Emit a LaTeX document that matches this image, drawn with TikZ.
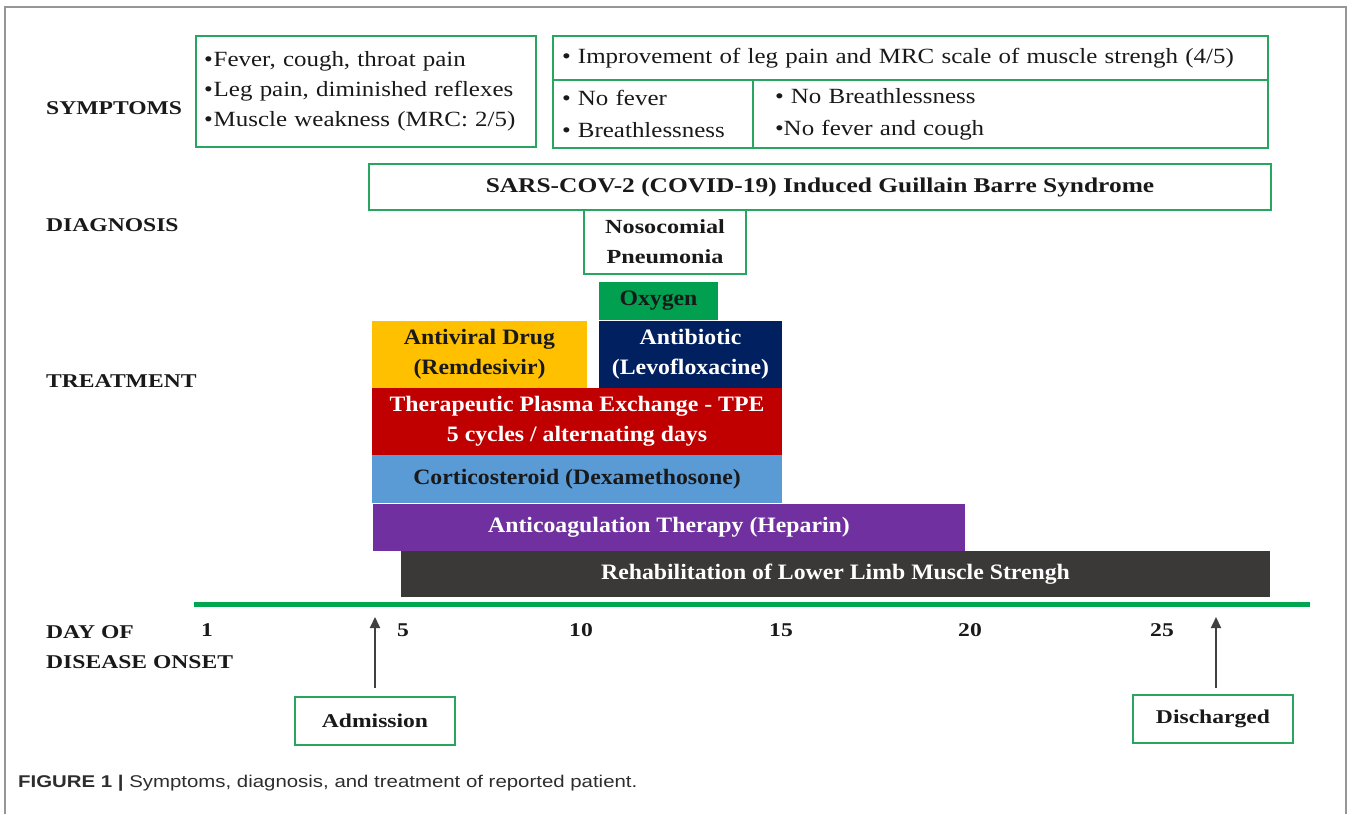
\documentclass[tikz,border=0pt]{standalone}
\usepackage{fontspec}
\setmainfont{Liberation Serif}[FakeStretch=1.15]
\newfontfamily\wideserif{Liberation Serif}[FakeStretch=1.21]
\newfontfamily\trtserif{Liberation Serif}[FakeStretch=1.08]
\newfontfamily\capfont{Liberation Sans}[FakeStretch=1.2]
\usetikzlibrary{arrows.meta}
\definecolor{gbord}{RGB}{40,165,95}
\definecolor{gline}{RGB}{0,166,80}
\definecolor{oxy}{RGB}{0,160,80}
\definecolor{yel}{RGB}{255,192,0}
\definecolor{navy}{RGB}{0,32,96}
\definecolor{redd}{RGB}{192,0,0}
\definecolor{blu}{RGB}{91,155,213}
\definecolor{purp}{RGB}{112,48,160}
\definecolor{dgray}{RGB}{59,56,56}
\definecolor{frame}{RGB}{150,150,150}
\definecolor{txt}{RGB}{25,25,25}
\definecolor{captxt}{RGB}{45,45,45}
\begin{document}
\begin{tikzpicture}[x=1pt,y=-1pt,
  gbox/.style={draw=gbord,line width=1.5pt,inner sep=0pt,text=txt},
  bar/.style={inner sep=0pt,align=center,font=\trtserif\bfseries\fontsize{22}{30}\selectfont},
  lab/.style={anchor=west,inner sep=0pt,align=left,text=txt,font=\wideserif\bfseries\fontsize{19.5}{30}\selectfont},
  day/.style={inner sep=0pt,text=txt,font=\wideserif\bfseries\fontsize{19.5}{24}\selectfont},
  symtxt/.style={font=\fontsize{21.7}{30}\selectfont},
  symtxtb/.style={font=\fontsize{21.7}{32}\selectfont},
  arr/.style={draw={rgb,255:red,64;green,64;blue,64},line width=2pt,-{Triangle[length=11pt,width=10pt]}}
]
\useasboundingbox (0,0) rectangle (1357,814);
\draw[frame,line width=1.2pt] (5,814) -- (5,7) -- (1346,7) -- (1346,814);

% labels
\node[lab] (lsym) at (46,108) {SYMPTOMS};
\node[lab] (ldia) at (46,225) {DIAGNOSIS};
\node[lab] (ltre) at (46,381) {TREATMENT};
\node[lab] (lday) at (46,647) {DAY OF\\DISEASE ONSET};

% symptoms
\node[gbox,minimum width=340pt,minimum height=111pt,text width=324pt,align=left,symtxt] (s1) at (366,91.5)
  {•\kern1pt Fever, cough, throat pain\\•\kern1pt Leg pain, diminished reflexes\\•\kern1pt Muscle weakness (MRC: 2/5)};
\node[gbox,minimum width=715pt,minimum height=44pt,text width=697pt,align=left,symtxt] (s2) at (910.5,58)
  {• Improvement of leg pain and MRC scale of muscle strengh (4/5)};
\node[gbox,minimum width=200pt,minimum height=68pt,text width=182pt,align=left,symtxtb] (s3) at (653,114)
  {• No fever\\• Breathlessness};
\node[gbox,minimum width=515pt,minimum height=68pt,text width=471pt,align=left,symtxtb] (s4) at (1010.5,114)
  {• No Breathlessness\\•No fever and cough};

% diagnosis
\node[gbox,minimum width=902pt,minimum height=46pt,bar,font=\wideserif\bfseries\fontsize{21}{30}\selectfont] (d1) at (820,187)
  {SARS-COV-2 (COVID-19) Induced Guillain Barre Syndrome};
\node[gbox,minimum width=162pt,minimum height=64pt,bar,font=\wideserif\bfseries\fontsize{20}{30}\selectfont] (d2) at (665,242)
  {Nosocomial\\Pneumonia};

% treatment
\node[bar,fill=oxy,text=txt,minimum width=119pt,minimum height=38pt] (t1) at (658.5,301) {Oxygen};
\node[bar,fill=yel,text=txt,minimum width=215pt,minimum height=67pt] (t2) at (479.5,354.5) {Antiviral Drug\\(Remdesivir)};
\node[bar,fill=navy,text=white,minimum width=183pt,minimum height=67pt] (t3) at (690.5,354.5) {Antibiotic\\(Levofloxacine)};
\node[bar,fill=redd,text=white,minimum width=410pt,minimum height=67pt] (t4) at (577,421.5) {Therapeutic Plasma Exchange - TPE\\5 cycles / alternating days};
\node[bar,fill=blu,text=txt,minimum width=410pt,minimum height=48pt] (t5) at (577,479) {Corticosteroid (Dexamethosone)};
\node[bar,fill=purp,text=white,minimum width=592pt,minimum height=47pt] (t6) at (669,527.5) {Anticoagulation Therapy (Heparin)};
\node[bar,fill=dgray,text=white,minimum width=869pt,minimum height=46pt] (t7) at (835.5,574) {Rehabilitation of Lower Limb Muscle Strengh};

% timeline
\coordinate (tl0) at (194,604);
\coordinate (tl1) at (1310,604);
\draw[gline,line width=5pt] (tl0) -- (tl1);
\node[day] (n1) at (207,630) {1};
\node[day] (n5) at (403,630) {5};
\node[day] (n10) at (581,630) {10};
\node[day] (n15) at (781,630) {15};
\node[day] (n20) at (970,630) {20};
\node[day] (n25) at (1162,630) {25};

% admission / discharge
\node[gbox,minimum width=160pt,minimum height=48pt,bar,font=\wideserif\bfseries\fontsize{19.5}{24}\selectfont] (adm) at (375,721) {Admission};
\node[gbox,minimum width=160pt,minimum height=48pt,bar,font=\wideserif\bfseries\fontsize{19.5}{24}\selectfont] (dis) at (1213,719) {Discharged};
\coordinate (aA) at (375,617);
\coordinate (aD) at (1216,617);
\draw[arr,shorten <=8pt] (adm.north) -- (aA);
\draw[arr,shorten <=6pt] (dis.north -| aD) -- (aD);

% caption
\node[anchor=west,inner sep=0pt,font=\capfont\fontsize{17}{20}\selectfont,text=captxt] (cap) at (18,783)
  {\textbf{FIGURE 1} \textbf{|} Symptoms, diagnosis, and treatment of reported patient.};
\end{tikzpicture}
\end{document}
